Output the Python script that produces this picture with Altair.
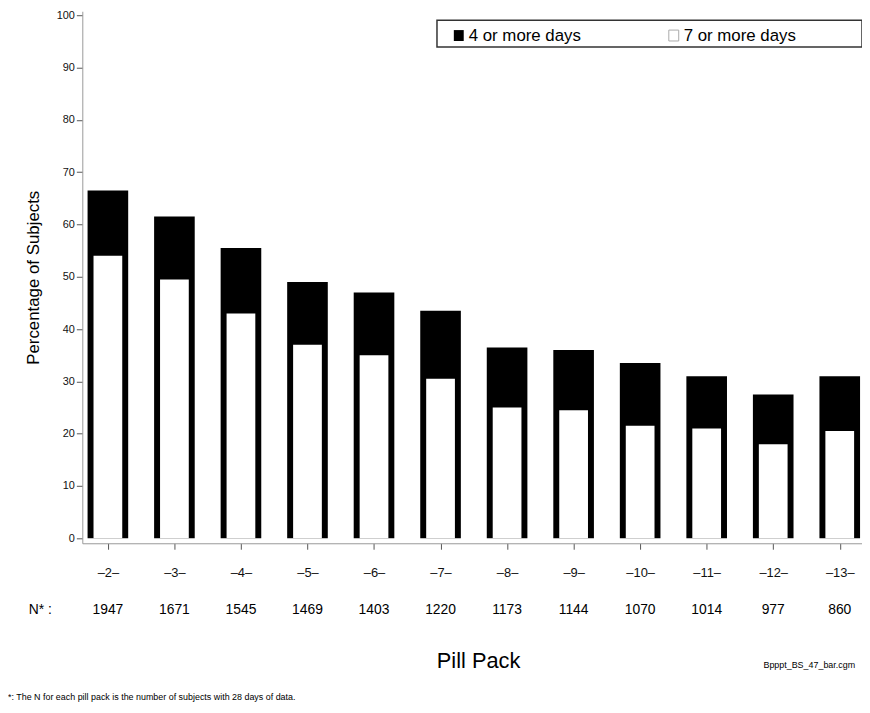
import altair as alt
import pandas as pd

packs = [2, 3, 4, 5, 6, 7, 8, 9, 10, 11, 12, 13]
four_plus = [66.5, 61.5, 55.5, 49, 47, 43.5, 36.5, 36, 33.5, 31, 27.5, 31]
seven_plus = [54, 49.5, 43, 37, 35, 30.5, 25, 24.5, 21.5, 21, 18, 20.5]
n_subjects = [1947, 1671, 1545, 1469, 1403, 1220, 1173, 1144, 1070, 1014, 977, 860]

df = pd.DataFrame({"pack": packs, "four": four_plus, "seven": seven_plus, "n": n_subjects})
FONT = "Liberation Sans"

x = alt.X("pack:Q", scale=alt.Scale(domain=[1.69, 13.26], nice=False, zero=False),
          axis=alt.Axis(values=packs, labelExpr="'\u2013' + datum.value + '\u2013'",
                        title=None, grid=False, labelFontSize=13, labelPadding=18,
                        tickSize=6, domainColor="#999", tickColor="#555",
                        labelFont=FONT, labelColor="#111"))
yscale = alt.Scale(domain=[-0.95, 100.76], nice=False, zero=False)

base = alt.Chart(df)
black = base.mark_bar(color="black", size=41).encode(
    x=x,
    y=alt.Y("four:Q", scale=yscale,
            axis=alt.Axis(values=list(range(0, 101, 10)), title="Percentage of Subjects",
                          titleFontSize=17, titleFontWeight="normal", titleFont=FONT,
                          titlePadding=14, labelFont=FONT, labelFontSize=11, labelColor="#111",
                          grid=False, domainColor="#999", tickColor="#555", tickSize=6)),
    y2=alt.datum(0),
)
white = base.mark_bar(color="white", size=29).encode(
    x="pack:Q", y="seven:Q", y2=alt.datum(0)
)
ntext = base.mark_text(fontSize=14, font=FONT).encode(
    x="pack:Q", y=alt.value(604), text="n:Q"
)
nlab = alt.Chart(pd.DataFrame({"t": ["N* :"]})).mark_text(
    fontSize=14, font=FONT, align="left").encode(x=alt.value(-54), y=alt.value(604), text="t:N")
title = alt.Chart(pd.DataFrame({"t": ["Pill Pack"]})).mark_text(
    fontSize=22, font=FONT).encode(x=alt.value(400), y=alt.value(656), text="t:N")
fname = alt.Chart(pd.DataFrame({"t": ["Bpppt_BS_47_bar.cgm"]})).mark_text(
    fontSize=9, font=FONT, align="right").encode(x=alt.value(780), y=alt.value(660), text="t:N")
foot = alt.Chart(pd.DataFrame({"t": ["*: The N for each pill pack is the number of subjects with 28 days of data."]})).mark_text(
    fontSize=9, font=FONT, align="left").encode(x=alt.value(-75), y=alt.value(692), text="t:N")

box = alt.Chart(pd.DataFrame({"a": [0]})).mark_rect(fill="white", stroke="#333", strokeWidth=1.5).encode(
    x=alt.value(358), x2=alt.value(787), y=alt.value(9), y2=alt.value(36))
sw1 = alt.Chart(pd.DataFrame({"a": [0]})).mark_rect(fill="black").encode(
    x=alt.value(375), x2=alt.value(385), y=alt.value(19), y2=alt.value(30))
sw2 = alt.Chart(pd.DataFrame({"a": [0]})).mark_rect(fill="white", stroke="#aaa").encode(
    x=alt.value(592), x2=alt.value(602), y=alt.value(19), y2=alt.value(30))
leg = alt.Chart(pd.DataFrame({"t": ["4 or more days", "7 or more days"], "px": [390, 607]})).mark_text(
    fontSize=17, font=FONT, align="left").encode(x=alt.X("px:Q", scale=None), y=alt.value(25), text="t:N")

chart = alt.layer(black, white, ntext, nlab, title, fname, foot, box, sw1, sw2, leg).properties(
    width=787, height=537,
    padding={"left": 75, "top": 0, "right": 0, "bottom": 165},
    autosize=alt.AutoSizeParams(type="none"),
).configure_view(stroke=None)

chart.save("out.html", embed_options={"renderer": "svg", "actions": False})
